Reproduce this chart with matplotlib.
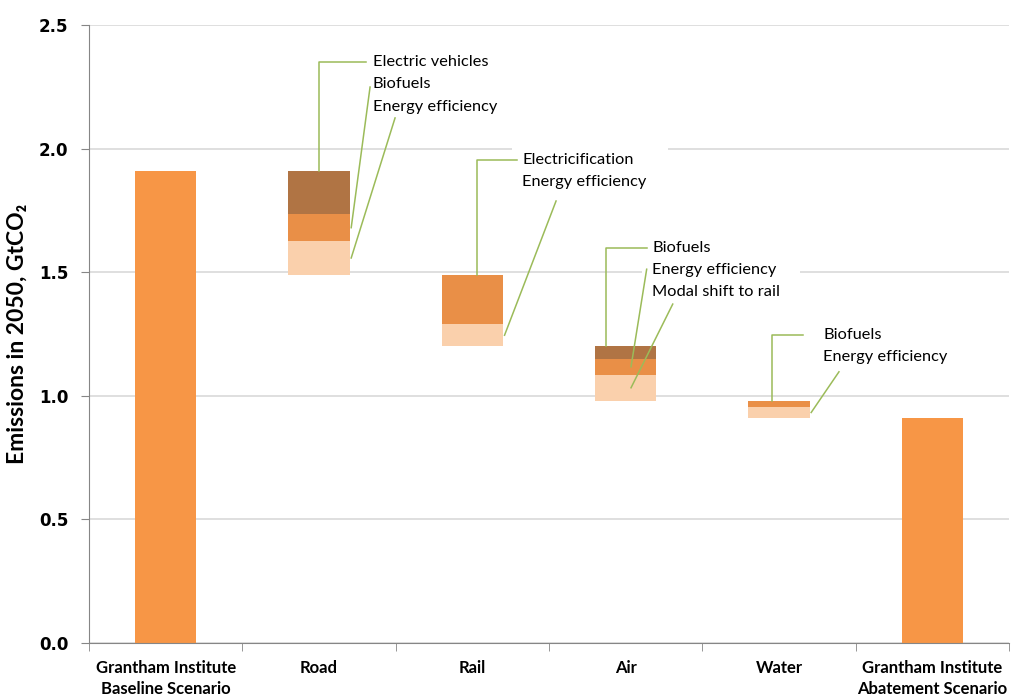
import matplotlib.pyplot as plt
from matplotlib.patches import Rectangle
import numpy as np

categories = ['Grantham Institute\nBaseline Scenario', 'Road', 'Rail', 'Air', 'Water',
              'Grantham Institute\nAbatement Scenario']
baseline = 1.91
abatement = 0.91

# emission cuts per sector, listed from the top of each stack down
road_measures = ['Electric vehicles', 'Biofuels', 'Energy efficiency']
road_cuts = [0.175, 0.11, 0.135]
rail_measures = ['Electricification', 'Energy efficiency']
rail_cuts = [0.20, 0.09]
air_measures = ['Biofuels', 'Energy efficiency', 'Modal shift to rail']
air_cuts = [0.05, 0.065, 0.105]
water_measures = ['Biofuels', 'Energy efficiency']
water_cuts = [0.025, 0.045]

ORANGE = '#F79646'
DARK = '#B07444'
MID = '#E98F47'
LIGHT = '#FAD0AC'
GREEN = '#9BBB59'

fig = plt.figure(figsize=(10.11, 6.94), dpi=100)
ax = fig.add_axes([89 / 1011, 1 - 643 / 694, 920 / 1011, 618 / 694])

width = 0.4
x = np.arange(len(categories))

ax.bar(x[0], baseline, width, color=ORANGE, zorder=2)
ax.bar(x[-1], abatement, width, color=ORANGE, zorder=2)

# label layout: text x, first line y, elbow x, elbow end x, attach x, ends of straight leaders, white box x-range
sectors = [
    (1, road_measures, road_cuts, [DARK, MID, LIGHT],
     dict(tx=1.352, ty=2.35, ex=0.0, eend=1.307, ax=0.21,
          ends=[(1.333, 2.249), (1.496, 2.124)], box=(1.287, 2.246))),
    (2, rail_measures, rail_cuts, [MID, LIGHT],
     dict(tx=2.324, ty=1.954, ex=0.03, eend=2.291, ax=0.21,
          ends=[(2.546, 1.788)], box=(2.259, 3.276))),
    (3, air_measures, air_cuts, [DARK, MID, LIGHT],
     dict(tx=3.172, ty=1.598, ex=-0.13, eend=3.137, ax=0.035,
          ends=[(3.137, 1.512), (3.307, 1.371)], box=(3.107, 4.137))),
    (4, water_measures, water_cuts, [MID, LIGHT],
     dict(tx=4.287, ty=1.246, ex=-0.047, eend=4.155, ax=0.21,
          ends=[(4.391, 1.097)], box=(4.222, 5.246))),
]

level = baseline
step = 0.09
for pos, measures, cuts, colors, lay in sectors:
    top = level
    mids = []
    for cut, col in zip(cuts, colors):
        ax.bar(pos, cut, width, bottom=level - cut, color=col, zorder=2)
        mids.append(level - cut / 2)
        level -= cut

    n = len(measures)
    y0 = lay['ty']
    # white box behind the labels
    ax.add_patch(Rectangle((lay['box'][0], y0 - step * (n - 1) - 0.065),
                           lay['box'][1] - lay['box'][0], step * (n - 1) + 0.13,
                           facecolor='white', edgecolor='none', zorder=1))
    for i, name in enumerate(measures):
        ax.text(lay['tx'], y0 - step * i, name, fontsize=11.8, family='Lato',
                va='center', ha='left', zorder=4)

    # elbow leader from the top of the stack to the first label
    exx = pos + lay['ex']
    ax.plot([exx, exx, lay['eend']], [top, y0, y0], color=GREEN, lw=1.1, zorder=3)
    # straight leaders for the remaining measures
    for mid, (xe, ye) in zip(mids[1:], lay['ends']):
        ax.plot([pos + lay['ax'], xe], [mid, ye], color=GREEN, lw=1.1, zorder=3)

ax.set_xlim(-0.5, 5.5)
ax.set_ylim(0, 2.5)
ax.set_yticks(np.arange(0, 2.51, 0.5))
ax.set_yticklabels([f'{v:.1f}' for v in np.arange(0, 2.51, 0.5)],
                   fontsize=12, fontweight='bold', family='DejaVu Sans')
ax.set_xticks(x)
ax.set_xticklabels(categories, fontsize=12, fontweight='bold', family='Lato',
                   linespacing=1.4)
ax.set_xticks(np.arange(-0.5, 5.6, 1), minor=True)
ax.tick_params(axis='x', which='major', length=0, pad=12)
ax.tick_params(axis='x', which='minor', length=6, color='#868686', direction='out')
ax.tick_params(axis='y', length=6, color='#868686', direction='out', pad=9)

ax.yaxis.grid(True, color='#D9D9D9', lw=1.2)
ax.set_axisbelow(True)

for s in ['top', 'right']:
    ax.spines[s].set_visible(False)
for s in ['left', 'bottom']:
    ax.spines[s].set_color('#868686')

ax.set_ylabel('Emissions in 2050, GtCO\u2082', fontsize=16.5,
              fontweight='bold', family=['Lato', 'DejaVu Sans'], labelpad=8)

fig.savefig('out.png', dpi=100)
